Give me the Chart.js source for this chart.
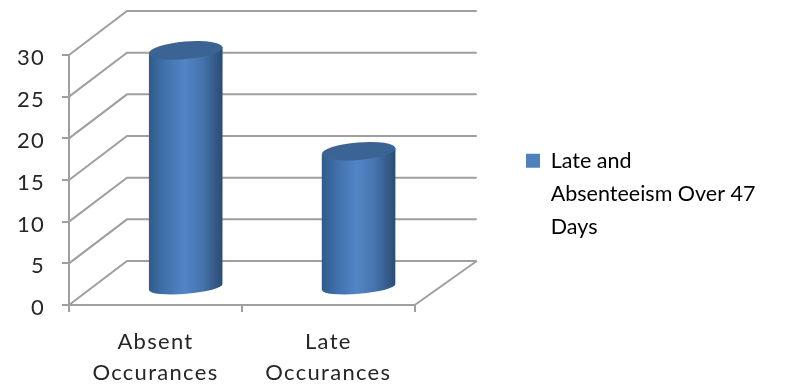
<!DOCTYPE html>
<html><head><meta charset="utf-8">
<style>html,body{margin:0;padding:0;background:#fff}#w{width:800px;height:384px;position:relative}</style>
<script src="https://cdn.jsdelivr.net/npm/chart.js@4"></script></head>
<body><div id="w"><canvas id="c"></canvas></div>
<script>
const categories = [["Absent","Occurances"],["Late","Occurances"]];
const seriesLabel = ["Late and","Absenteeism Over 47","Days"];
const seriesValues = [28.4,16.3];
const yTicks = [0,5,10,15,20,25,30];

const GRID='#9f9f9f', DX=58, DY=44, FONT='Lato, Carlito, sans-serif', SPACING='1.3px';
const cyl={
 id:'cyl',
 beforeUpdate(chart){chart.ctx.letterSpacing=SPACING;},
 beforeLayout(chart){chart.ctx.letterSpacing=SPACING;},
 beforeDraw(chart){chart.ctx.letterSpacing=SPACING;},
 afterLayout(chart){
  const l=chart.legend; l.left=520; l.right=790; l.width=270;
  l.top-=20; l.bottom-=20;
  if(!l._wrapped){
   const d=l.draw; l._wrapped=true;
   l.draw=function(...a){const c=this.ctx;c.letterSpacing='0px';d.apply(this,a);c.letterSpacing=SPACING;};
  }
 },
 beforeDatasetsDraw(chart){
  const {ctx,scales:{x,y}}=chart;
  ctx.save();ctx.strokeStyle=GRID;ctx.lineWidth=2;
  yTicks.forEach(v=>{const p=y.getPixelForValue(v);
   ctx.beginPath();ctx.moveTo(x.left,p);ctx.lineTo(x.left+DX,p-DY);ctx.lineTo(x.right+DX+4,p-DY);ctx.stroke();});
  const p0=y.getPixelForValue(0);
  ctx.beginPath();ctx.moveTo(x.right,p0);ctx.lineTo(x.right+DX+4,p0-DY);ctx.stroke();
  ctx.restore();
 },
 beforeDatasetDraw(chart,args){
  const {ctx,scales:{y}}=chart;
  chart.getDatasetMeta(args.index).data.forEach(el=>{
   const cx=el.x+30.3, rx=el.width/2, ry=8.8, rot=-0.082;
   const by=y.getPixelForValue(0)-18, ty=el.y-18;
   const dy=rx*Math.sin(-rot);
   const g=ctx.createLinearGradient(cx-rx,0,cx+rx,0);
   g.addColorStop(0,'#2f5b8c');g.addColorStop(.2,'#3f70aa');g.addColorStop(.48,'#5285c5');
   g.addColorStop(.72,'#4674ae');g.addColorStop(1,'#2c4b72');
   ctx.save();ctx.fillStyle=g;ctx.beginPath();
   ctx.moveTo(cx-rx,ty+dy);ctx.lineTo(cx-rx,by+dy);
   ctx.ellipse(cx,by,rx,6.8,rot,Math.PI,0,true);
   ctx.lineTo(cx+rx,ty-dy);ctx.closePath();ctx.fill();
   ctx.fillStyle='#3b6494';ctx.beginPath();ctx.ellipse(cx,ty,rx,ry,rot,0,Math.PI*2);ctx.fill();
   ctx.restore();
  });
  return false;
 }
};
new Chart(document.getElementById('c'),{
 type:'bar',
 data:{labels:categories,datasets:[{label:seriesLabel.join(' '),data:seriesValues,backgroundColor:'#4f81bd',
   categoryPercentage:1,barPercentage:0.426}]},
 plugins:[cyl],
 options:{responsive:true,maintainAspectRatio:false,animation:false,
  layout:{padding:{top:55,left:0,bottom:0,right:247}},
  plugins:{tooltip:{enabled:false},
   legend:{position:'right',align:'center',
    labels:{boxWidth:14,boxHeight:14,padding:6,color:'#262626',font:{family:FONT,size:21.5,lineHeight:1.535},
     generateLabels:c=>[{text:seriesLabel,fillStyle:c.data.datasets[0].backgroundColor,strokeStyle:'transparent',lineWidth:0,datasetIndex:0}]}}},
  scales:{
   x:{afterFit(s){s.height=79;},
      grid:{drawOnChartArea:false,drawTicks:true,tickLength:7,color:GRID,lineWidth:2,offset:true},
      border:{color:GRID,width:2},
      ticks:{color:'#262626',padding:14,maxRotation:0,font:{family:FONT,size:22,lineHeight:1.43}}},
   y:{min:0,max:30,afterFit(s){s.width=69;},
      afterBuildTicks(s){s.ticks=yTicks.map(v=>({value:v}));},
      grid:{drawOnChartArea:false,drawTicks:true,tickLength:7,color:GRID,lineWidth:2},
      border:{color:GRID,width:2},
      ticks:{color:'#262626',padding:17,labelOffset:3,font:{family:FONT,size:22}}}
  }}
});
</script></body></html>
